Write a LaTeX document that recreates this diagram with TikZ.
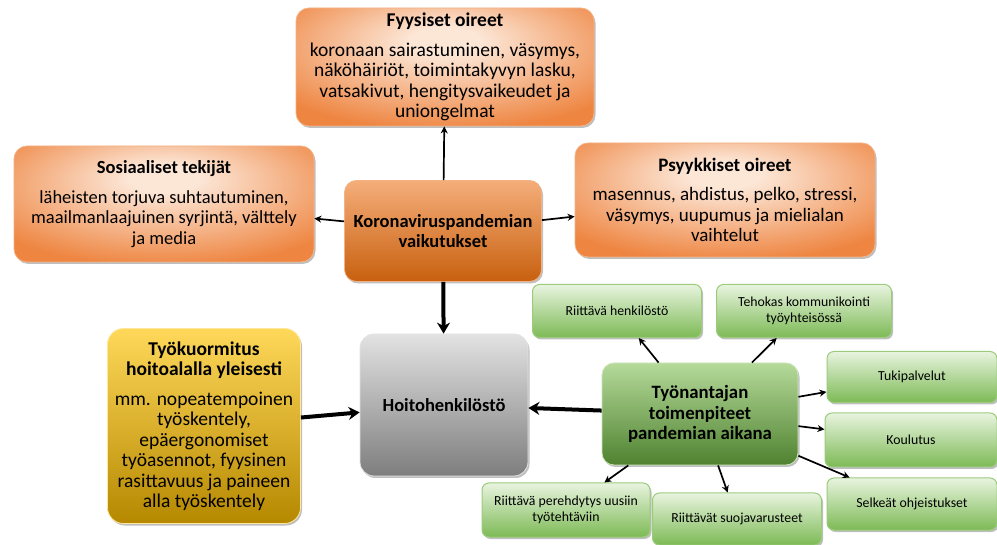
\documentclass[tikz,border=0pt]{standalone}
\usepackage{fontspec}
\setmainfont{Carlito}
\usetikzlibrary{arrows.meta,shadows}
\definecolor{peach}{HTML}{FCE6D6}
\definecolor{orng}{HTML}{EE8541}
\definecolor{orngline}{HTML}{F4B183}
\definecolor{kortop}{HTML}{F5AE7A}
\definecolor{korbot}{HTML}{C8600F}
\definecolor{yeltop}{HTML}{FFD85A}
\definecolor{yelmid}{HTML}{FFC000}
\definecolor{yelbot}{HTML}{B58800}
\definecolor{greytop}{HTML}{E2E2E2}
\definecolor{greybot}{HTML}{7E7E7E}
\definecolor{grntop}{HTML}{B5DA9A}
\definecolor{grnbot}{HTML}{4F8230}
\definecolor{lgtop}{HTML}{E8F4DF}
\definecolor{lgbot}{HTML}{7DBA55}
\definecolor{lgline}{HTML}{9CCB7C}
\pgfdeclareradialshading{orangeglow}{\pgfpoint{0bp}{12bp}}{color(0bp)=(peach); color(6bp)=(peach); color(34bp)=(orng); color(80bp)=(orng)}
\tikzset{
  shad/.style={drop shadow={shadow xshift=1.5pt, shadow yshift=-2pt, opacity=0.25, fill=black}},
  sidebox/.style={shad, rounded corners=13pt, shade, shading=orangeglow, draw=orngline, line width=0.8pt,
    align=center, font=\fontsize{18.5}{20.5}\selectfont, inner sep=0pt},
  korbox/.style={shad, rounded corners=12pt, top color=kortop, bottom color=korbot, draw=orngline, line width=0.8pt,
    align=center, font=\fontsize{18.5}{20.5}\selectfont\bfseries, inner sep=0pt},
  yelbox/.style={shad, rounded corners=16pt, top color=yeltop, middle color=yelmid, bottom color=yelbot, draw=yeltop!60!white, line width=0.8pt,
    align=center, font=\fontsize{19.5}{20.5}\selectfont, inner sep=0pt},
  greybox/.style={shad, rounded corners=14pt, top color=greytop, bottom color=greybot, draw=greytop, line width=0.8pt,
    align=center, font=\fontsize{18.5}{20.5}\selectfont\bfseries, inner sep=0pt},
  grnbox/.style={shad, rounded corners=12pt, top color=grntop, bottom color=grnbot, draw=grntop!70!white, line width=0.8pt,
    align=center, font=\fontsize{18.8}{20.5}\selectfont\bfseries, inner sep=0pt},
  smallbox/.style={shad, rounded corners=7pt, top color=lgtop, bottom color=lgbot, draw=lgline, line width=1pt,
    align=center, font=\fontsize{13.8}{16.5}\selectfont, inner sep=0pt},
  thin/.style={line width=1.7pt, -{Stealth[length=7pt,width=7pt]}},
  thick/.style={line width=4pt, -{Stealth[length=11pt,width=13pt]}},
}
\begin{document}
\begin{tikzpicture}[x=1pt,y=-1pt]
\useasboundingbox (0,0) rectangle (997,545);
\fill[white] (0,0) rectangle (997,545);

\node[sidebox, minimum width=298pt, minimum height=118pt, font=\fontsize{19.5}{20.5}\selectfont] (fy) at (445,67)
  {\textbf{Fyysiset oireet}\\[9pt]koronaan sairastuminen, väsymys,\\näköhäiriöt, toimintakyvyn lasku,\\vatsakivut, hengitysvaikeudet ja\\uniongelmat};
\node[sidebox, minimum width=300pt, minimum height=116pt] (so) at (164,204)
  {\textbf{Sosiaaliset tekijät}\\[9pt]läheisten torjuva suhtautuminen,\\maailmanlaajuinen syrjintä, välttely\\ja media};
\node[sidebox, minimum width=300pt, minimum height=114pt, font=\fontsize{19}{20.5}\selectfont] (ps) at (725,200)
  {\textbf{Psyykkiset oireet}\\[9pt]masennus, ahdistus, pelko, stressi,\\väsymys, uupumus ja mielialan\\vaihtelut};
\node[korbox, minimum width=197pt, minimum height=101pt] (ko) at (443,231)
  {Koronaviruspandemian\\vaikutukset};
\node[yelbox, minimum width=193pt, minimum height=195pt] (ty) at (204,426)
  {\textbf{Työkuormitus}\\\textbf{hoitoalalla yleisesti}\\[9pt]mm. nopeatempoinen\\työskentely,\\epäergonomiset\\työasennot, fyysinen\\rasittavuus ja paineen\\alla työskentely};
\node[greybox, minimum width=168pt, minimum height=142pt] (ho) at (444,405)
  {Hoitohenkilöstö};
\node[grnbox, minimum width=196pt, minimum height=102pt] (tn) at (700,414)
  {Työnantajan\\toimenpiteet\\pandemian aikana};

\node[smallbox, minimum width=169pt, minimum height=53pt] (rh) at (617,311) {Riittävä henkilöstö};
\node[smallbox, minimum width=175pt, minimum height=53pt] (te) at (804,311) {Tehokas kommunikointi\\työyhteisössä};
\node[smallbox, minimum width=170pt, minimum height=51pt] (tu) at (912,377) {Tukipalvelut};
\node[smallbox, minimum width=172pt, minimum height=54pt] (kl) at (911,440) {Koulutus};
\node[smallbox, minimum width=170pt, minimum height=52pt] (se) at (912,504) {Selkeät ohjeistukset};
\node[smallbox, minimum width=168pt, minimum height=54pt] (pe) at (566,510) {Riittävä perehdytys uusiin\\työtehtäviin};
\node[smallbox, minimum width=169pt, minimum height=52pt] (su) at (737,519) {Riittävät suojavarusteet};

\draw[thin] (ko) -- (fy);
\draw[thin] (ko) -- (so);
\draw[thin] (ko) -- (ps);
\draw[thick] (ko) -- (ho);
\draw[thick] (ty) -- (ho);
\draw[thick] (tn) -- (ho);
\draw[thin] (tn) -- (rh);
\draw[thin] (tn) -- (te);
\draw[thin] (tn) -- (tu);
\draw[thin] (tn) -- (kl);
\draw[thin] (tn) -- (se);
\draw[thin] (tn) -- (pe);
\draw[thin] (tn) -- (su);
\end{tikzpicture}
\end{document}
